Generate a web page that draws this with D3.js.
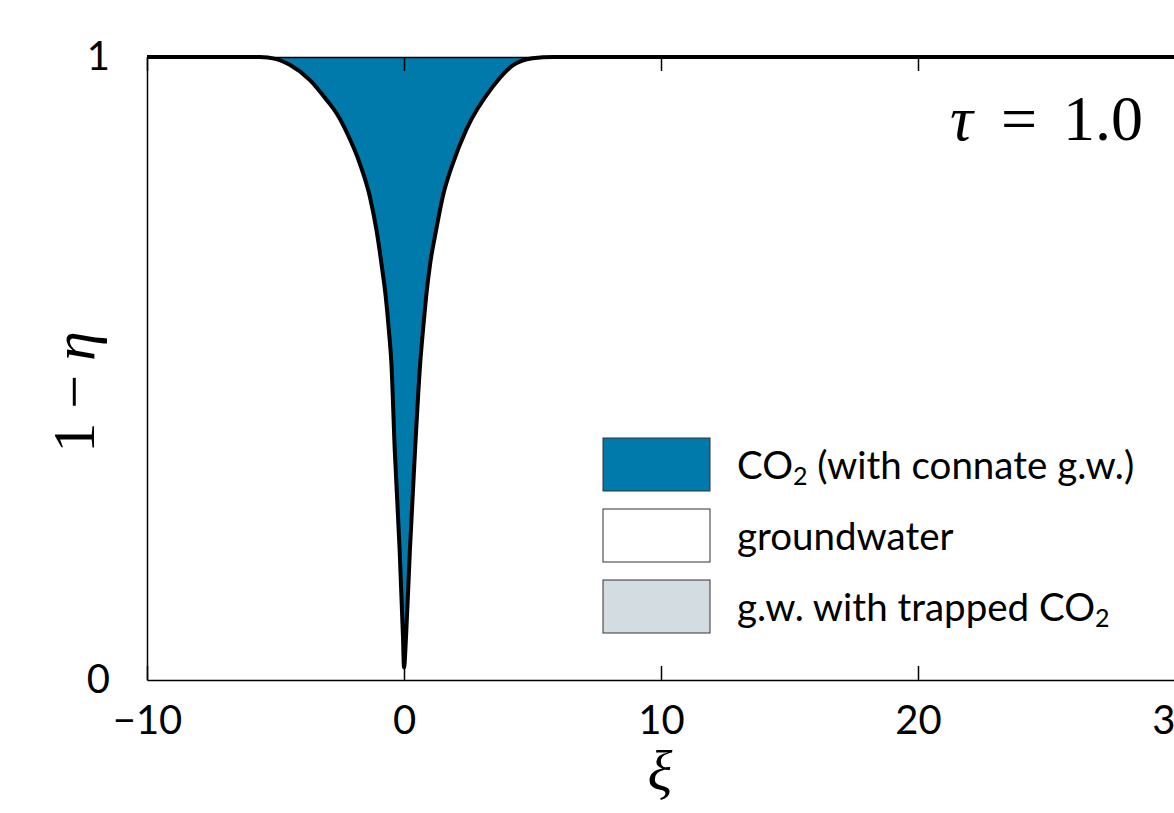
<!DOCTYPE html>
<html>
<head>
<meta charset="utf-8">
<script src="https://cdn.jsdelivr.net/npm/d3@7"></script>
<style>
body { margin: 0; background: #fff; }
.axis text { font-family: Lato, "Open Sans", sans-serif; font-size: 40px; fill: #000; }
.axis path, .axis line { stroke: #000; stroke-width: 1.5px; }
.legend-text { font-family: Lato, "Open Sans", sans-serif; font-size: 38.5px; fill: #000; }
.math { font-family: "Liberation Serif", "DejaVu Serif", serif; fill: #000; }
</style>
</head>
<body>
<svg id="chart" width="1174" height="813"></svg>
<script>
// boundary of the CO2 plume (1 - eta against xi)
var xi  = [-10, -5.6, -5.0, -4.43, -3.66, -3.01, -2.6, -2.24, -1.72, -1.33, -1.07, -0.88, -0.71, -0.59, -0.49, -0.36, -0.17, -0.04, 0.0,
           0.08, 0.23, 0.43, 0.63, 0.74, 0.86, 1.02, 1.25, 1.51, 1.90, 2.42, 3.45, 4.22, 5.0, 5.8, 30];
var eta = [1, 1, 0.997, 0.987, 0.963, 0.931, 0.908, 0.880, 0.829, 0.776, 0.722, 0.669, 0.615, 0.562, 0.508, 0.369, 0.209, 0.07, 0.02,
           0.07, 0.209, 0.369, 0.508, 0.562, 0.615, 0.669, 0.722, 0.776, 0.829, 0.883, 0.952, 0.986, 0.998, 1, 1];

var xTicks = [-10, 0, 10, 20, 30];
var yTicks = [0, 1];

var legendLabels = ["CO2 (with connate g.w.)", "groundwater", "g.w. with trapped CO2"];
var legendColors = ["#0079ab", "#ffffff", "#d3dde1"];

var svg = d3.select("#chart"),
    margin = {top: 57, left: 147},
    width = 1028,
    height = 623;

var x = d3.scaleLinear().domain([-10, 30]).range([0, width]),
    y = d3.scaleLinear().domain([0, 1]).range([height, 0]);

var g = svg.append("g")
    .attr("transform", "translate(" + margin.left + "," + margin.top + ")");

var pts = xi.map(function(d, i) { return {xi: d, v: eta[i]}; });

// blue plume between the top (1) and the curve
g.append("path")
    .datum(pts)
    .attr("fill", legendColors[0])
    .attr("d", d3.area()
        .x(function(d) { return x(d.xi); })
        .y0(function(d) { return y(1); })
        .y1(function(d) { return y(d.v); })
        .curve(d3.curveMonotoneX));

g.append("g")
    .attr("class", "axis")
    .attr("transform", "translate(0," + height + ")")
    .call(d3.axisBottom(x).tickValues(xTicks).tickSizeInner(-14).tickSizeOuter(0).tickPadding(26));

g.append("g")
    .attr("class", "axis")
    .call(d3.axisTop(x).tickValues(xTicks).tickFormat("").tickSizeInner(-14).tickSizeOuter(0));

g.append("g")
    .attr("class", "axis")
    .call(d3.axisLeft(y).tickValues(yTicks).tickFormat(d3.format("d")).tickSizeInner(0).tickSizeOuter(0).tickPadding(37));

g.append("path")
    .datum(pts)
    .attr("fill", "none")
    .attr("stroke", "#000")
    .attr("stroke-width", 4)
    .attr("stroke-linejoin", "round")
    .attr("d", d3.line()
        .x(function(d) { return x(d.xi); })
        .y(function(d) { return y(d.v); })
        .curve(d3.curveMonotoneX));

// legend
var leg = g.append("g").attr("transform", "translate(456,381)");
var item = leg.selectAll(".item")
    .data(legendLabels)
    .enter().append("g")
    .attr("class", "item")
    .attr("transform", function(d, i) { return "translate(0," + (i * 71) + ")"; });

item.append("rect")
    .attr("width", 107)
    .attr("height", 53)
    .attr("fill", function(d, i) { return legendColors[i]; })
    .attr("stroke", "#333")
    .attr("stroke-width", 1);

item.append("text")
    .attr("class", "legend-text")
    .attr("x", 134)
    .attr("y", 41)
    .each(function(d) {
        var t = d3.select(this);
        var parts = d.split("CO2");
        parts.forEach(function(p, j) {
            if (j > 0) {
                t.append("tspan").text("CO");
                t.append("tspan").attr("font-size", "25px").attr("dy", 6).text("2");
                t.append("tspan").attr("dy", -6).text(p);
            } else {
                t.append("tspan").text(p);
            }
        });
    });

// tau annotation
var tau = svg.append("text")
    .attr("class", "math")
    .attr("x", 1143)
    .attr("y", 140)
    .attr("text-anchor", "end")
    .attr("font-size", "64px");
tau.append("tspan").attr("font-style", "italic").text("τ");
tau.append("tspan").attr("dx", 28).text("=");
tau.append("tspan").attr("dx", 26).text("1.0");

// axis titles
var yl = svg.append("text")
    .attr("class", "math")
    .attr("transform", "translate(94,392) rotate(-90)")
    .attr("text-anchor", "middle")
    .attr("font-size", "60px");
yl.append("tspan").text("1");
yl.append("tspan").attr("dx", 14).text("−");
yl.append("tspan").attr("dx", 14).attr("font-style", "italic").text("η");

svg.append("text")
    .attr("class", "math")
    .attr("x", 660)
    .attr("y", 790)
    .attr("text-anchor", "middle")
    .attr("font-size", "58px")
    .attr("font-style", "italic")
    .text("ξ");
</script>
</body>
</html>
